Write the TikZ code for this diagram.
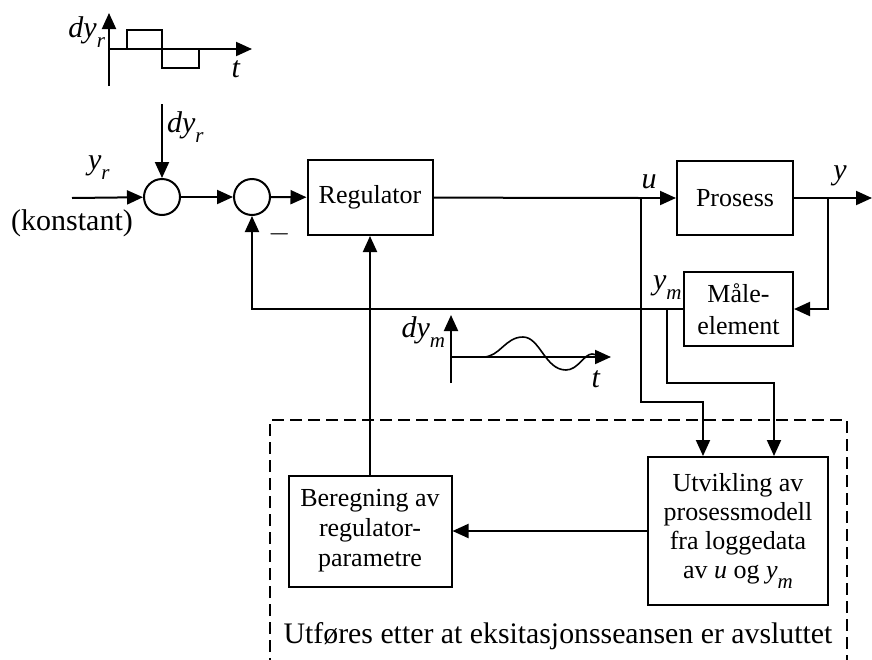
\documentclass[tikz,border=0pt]{standalone}
\usepackage{fontspec}
\setmainfont{Liberation Serif}
\usetikzlibrary{arrows.meta}

% italic symbol with a low italic subscript
\newcommand{\sig}[2]{\textit{#1}\raisebox{-5pt}{\fontsize{10.5}{10.5}\selectfont\itshape #2}}

\begin{document}
\begin{tikzpicture}[x=0.5pt, y=-0.5pt, line width=1pt, >={Triangle[length=8pt,width=7pt]},
        font=\fontsize{13}{15}\selectfont,
        blokk/.style={draw, line width=1pt, align=center, inner sep=0pt},
        sum/.style={draw, circle, line width=1pt, minimum size=18pt, inner sep=0pt},
        lbl/.style={inner sep=0pt, font=\fontsize{15}{15}\selectfont}]
        \useasboundingbox (0,0) rectangle (872,659);

        % blocks
        \node[blokk, minimum width=62.5pt, minimum height=37.5pt] (R) at (370,197.5) {Regulator};
        \node[blokk, minimum width=58pt, minimum height=37pt] (P) at (735,198) {Prosess};
        \node[blokk, minimum width=54.5pt, minimum height=37pt, font=\fontsize{13}{16}\selectfont] (M) at (738.5,309) {Måle-\\element};
        \node[blokk, minimum width=81.5pt, minimum height=55.5pt] (B) at (370,531) {Beregning av\\regulator-\\parametre};
        \node[blokk, minimum width=90pt, minimum height=74pt, font=\fontsize{13}{14.5}\selectfont] (U) at (738,531) {Utvikling av\\prosessmodell\\fra loggedata\\av \textit{u} og \sig{y}{m}};
        \node[sum] (S1) at (162,197) {};
        \node[sum] (S2) at (252,197) {};

        % branch points and free ends
        \coordinate (inn) at (72,198);
        \coordinate (dr) at (162,104);
        \coordinate (ub) at (641,198);
        \coordinate (yb) at (828,198);
        \coordinate (ut) at (872,198);
        \coordinate (mb) at (667,309);
        \coordinate (ui) at (703,402);
        \coordinate (mi) at (774,383);

        % signal lines
        \draw[->] (inn) -- (S1);
        \draw[->] (dr) -- (S1);
        \draw[->] (S1) -- (S2);
        \draw[->] (S2) -- (R);
        \draw (R) -- (ub);
        \draw[->] (ub) -- (P);
        \draw (P) -- (yb);
        \draw[->] (yb) -- (ut);
        \draw[->] (yb) |- (M);
        \draw[->] (M) -| (S2);
        \draw[->] (ub) |- (ui) -- (ui |- U.north);
        \draw[->] (mb) |- (mi) -- (mi |- U.north);
        \draw[->] (U) -- (B);
        \draw[->] (B) -- (R);

        % off-line part
        \draw[dashed, dash pattern=on 6pt off 3pt] (270,670) |- (847,420) -- (847,670);
        \node[lbl, anchor=base, font=\fontsize{14.9}{16}\selectfont] (txt) at (558,643) {Utføres etter at eksitasjonsseansen er avsluttet};

        % labels
        \node[lbl, anchor=base west] (yr) at (87,169) {\sig{y}{r}};
        \node[lbl, anchor=base] (kon) at (72,230) {(konstant)};
        \node[lbl, anchor=base west] (dyr) at (166,132) {\sig{dy}{r}};
        \node[lbl, anchor=base] (minus) at (280,241) {$-$};
        \node[lbl, anchor=base] (u) at (649,188) {\textit{u}};
        \node[lbl, anchor=base] (y) at (840,179) {\textit{y}};
        \node[lbl, anchor=base west] (ym) at (652,289) {\sig{y}{m}};

        % step excitation
        \draw[->] (109,86) -- (109,13);
        \draw[->] (109,49) -- (252,49);
        \draw (109,49) -| (127,30) -| (162,68) -| (199,49);
        \node[lbl, anchor=base east] (dyr2) at (106,37) {\sig{dy}{r}};
        \node[lbl, anchor=base] (t1) at (236,77) {\textit{t}};

        % measured response
        \draw[->] (451,383) -- (451,315);
        \draw[->] (451,357) -- (611,357);
        \draw[line width=0.8pt] (483,357) .. controls (500,357) and (505,337) .. (523,337)
            .. controls (540,337) and (545,370) .. (566,370)
            .. controls (578,370) and (584,354) .. (592,354)
            .. controls (596,354) and (598,357) .. (602,357);
        \node[lbl, anchor=base east] (dym) at (446,337) {\sig{dy}{m}};
        \node[lbl, anchor=base] (t2) at (596,387) {\textit{t}};
\end{tikzpicture}
\end{document}
